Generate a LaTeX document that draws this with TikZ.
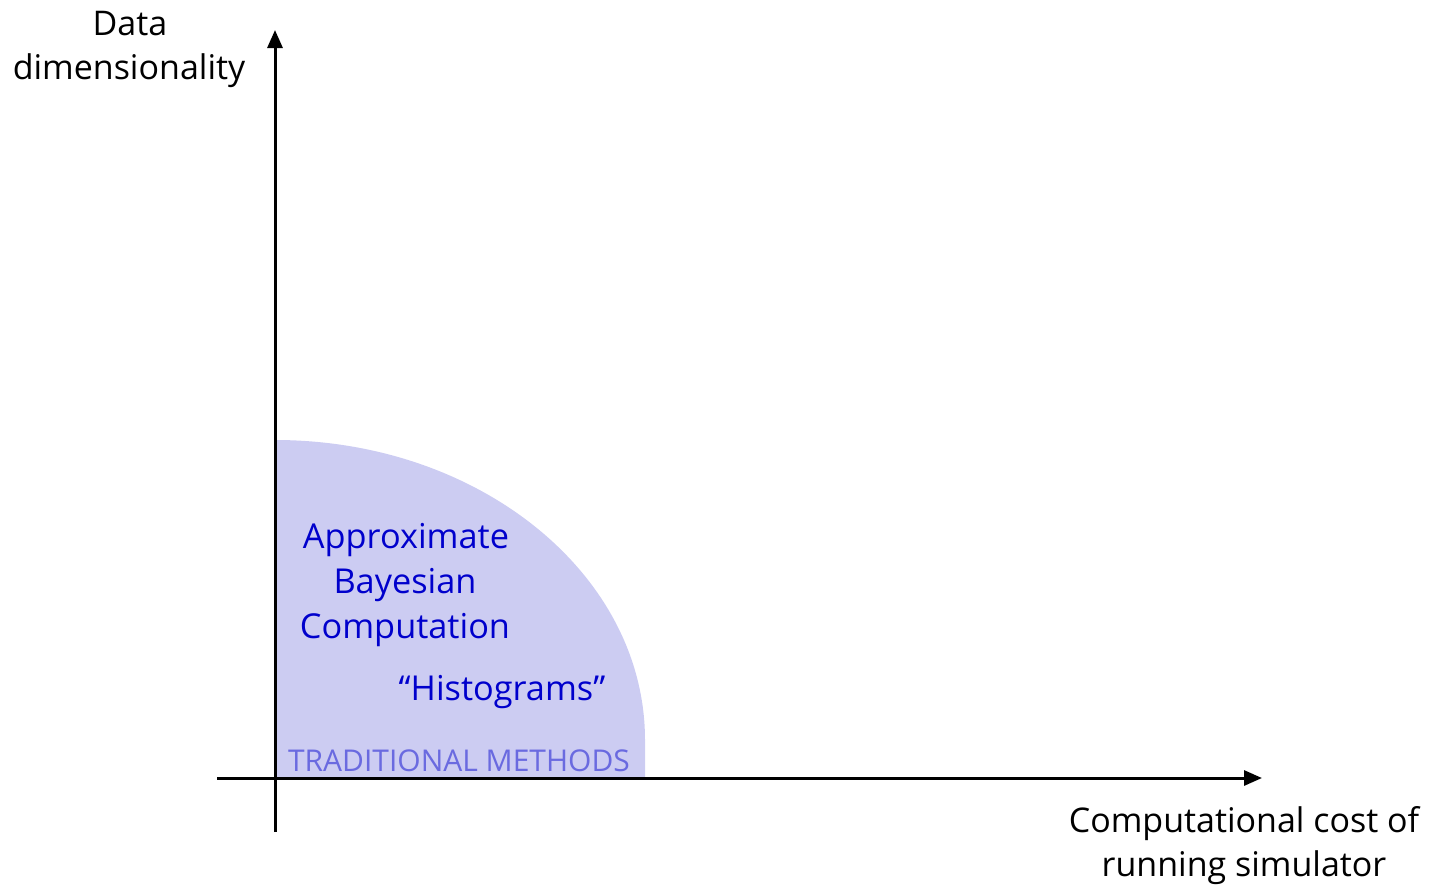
\documentclass[tikz,border=0pt]{standalone}
\usepackage{fontspec}
\setmainfont{Open Sans}
\usetikzlibrary{arrows.meta}
\definecolor{blobfill}{HTML}{CCCCF2}
\definecolor{methodblue}{HTML}{0000CC}
\definecolor{tradblue}{HTML}{6A6AE0}
\tikzset{
  axis/.style={line width=3pt, -{Triangle[length=18pt,width=15pt]}},
  axislabel/.style={anchor=base, inner sep=0pt, font=\fontsize{34}{40}\selectfont, text=black},
  method/.style={anchor=base, inner sep=0pt, font=\fontsize{34.3}{42}\selectfont, text=methodblue},
  trad/.style={anchor=base, inner sep=0pt, font=\fontsize{30}{36}\selectfont, text=tradblue}
}
\begin{document}
\begin{tikzpicture}[x=1pt,y=-1pt]
\useasboundingbox (0,0) rectangle (1433,886);
% region
\fill[blobfill] (275,778) -- (275,440) arc[start angle=-90, end angle=0, x radius=370, y radius=300] -- (645,778) -- cycle;
% axes
\coordinate (xstart) at (217,778);
\coordinate (xend) at (1262,778);
\coordinate (ystart) at (275,832);
\coordinate (yend) at (275,30);
\draw[axis] (xstart) -- (xend);
\draw[axis] (ystart) -- (yend);
% axis labels
\node[axislabel] (ylab1) at (130,35) {Data};
\node[axislabel] (ylab2) at (129,79) {dimensionality};
\node[axislabel] (xlab1) at (1244,832) {Computational cost of};
\node[axislabel] (xlab2) at (1244,876) {running simulator};
% methods
\node[method] (abc1) at (406,548) {Approximate};
\node[method] (abc2) at (405,593) {Bayesian};
\node[method] (abc3) at (405,638) {Computation};
\node[method] (hist) at (502,700) {“Histograms”};
\node[trad] (trad) at (459,771) {TRADITIONAL METHODS};
\end{tikzpicture}
\end{document}
